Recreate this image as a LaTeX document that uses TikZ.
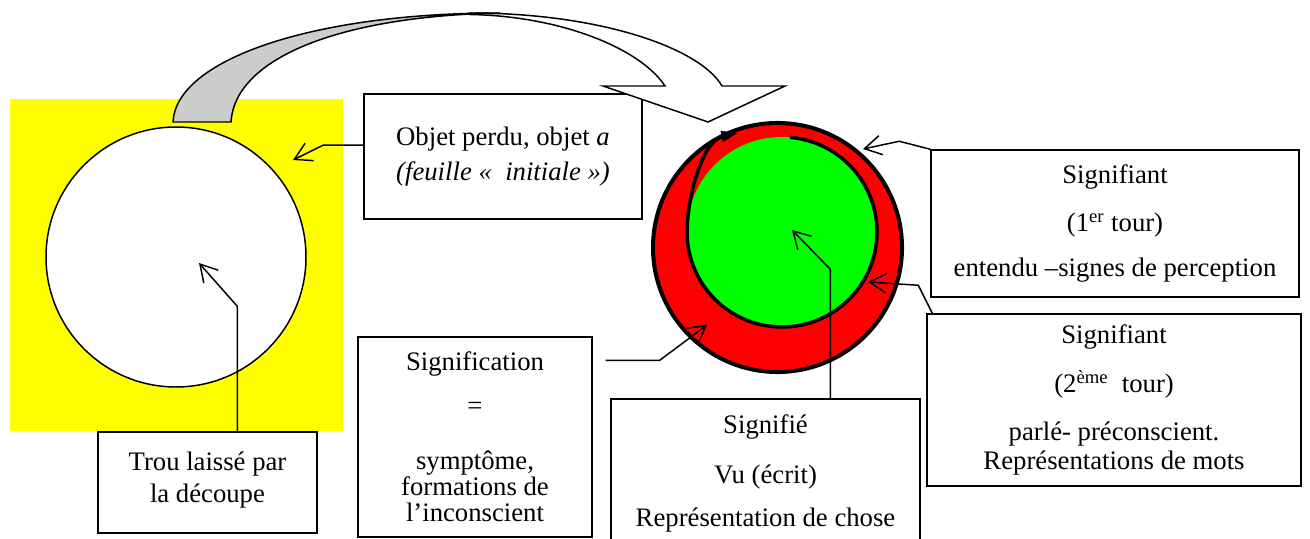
\documentclass[tikz,border=0pt]{standalone}
\usepackage{fontspec}
\setmainfont{Liberation Serif}
\usepackage{tikz}
\usetikzlibrary{calc,arrows.meta}
\definecolor{syellow}{HTML}{FFFF00}
\definecolor{sred}{HTML}{FF0000}
\definecolor{sgreen}{HTML}{00FF00}
\definecolor{sgray}{HTML}{CCCCCC}

\begin{document}
\begin{tikzpicture}[x=0.02cm, y=0.02cm,
    TXT/.style={draw=black, fill=white, line width=0.85pt, align=center, inner sep=0pt, font=\fontsize{15.2}{15}\selectfont},
    PTR/.style={line width=0.85pt, -{Straight Barb[length=9.5pt,width=11pt]}}
    ]
        \useasboundingbox (0,0) rectangle (1310,538);
        \clip (0,0) rectangle (1310,538);
        % la feuille et son trou
        \fill[syellow] (10,107) rectangle (343,439);
        \draw[line width=0.85pt, fill=white] (176,281) circle (130);
        \node[TXT, minimum width=5.56cm, minimum height=2.5cm] (objet) at (503,381.5) {Objet perdu, objet \textit{a}\\[5pt]\textit{(feuille «\ \ initiale »)}};
        \node[TXT, minimum width=4.38cm, minimum height=2.02cm] (trou) at (207.5,55.5) {Trou laissé par\\[3pt]la découpe\\[-9pt]\mbox{}};
        \node[TXT, minimum width=4.68cm, minimum height=4cm] (signif) at (475,101) {Signification\\[10pt]=\\[16pt]symptôme,\\formations de\\l’inconscient};
        \node[TXT, minimum width=6.18cm, minimum height=2.98cm] (signifie) at (765.5,64.5) {Signifié\\[13pt]Vu (écrit)\\[9.5pt]Représentation de chose};
        \node[TXT, minimum width=7.36cm, minimum height=2.94cm] (tour1) at (1115,314.5) {Signifiant\\[12pt](1\textsuperscript{er} tour)\\[10.5pt]entendu –signes de perception};
        \node[TXT, minimum width=7.48cm, minimum height=3.44cm] (tour2) at (1114,138) {Signifiant\\[11pt](2\textsuperscript{ème}\ \ tour)\\[12pt]parlé- préconscient.\\[1.5pt]Représentations de mots};
        % la fleche courbe
        \filldraw[fill=sgray, line width=0.85pt] (173,416) .. controls (176,478) and (311,525) .. (500,525) .. controls (340,522) and (235,480) .. (231,416) -- cycle;
        \filldraw[fill=white, line width=0.85pt] (470,525) .. controls (600,525) and (700,490) .. (722,452) -- (785,452) -- (708,416) -- (603,452) -- (665,452) .. controls (640,490) and (560,522) .. (470,523.5) -- cycle;
        % signifiant / signifie
        \coordinate (gc) at (782,306);
        \filldraw[fill=sred, line width=2.3pt] (777.5,290.5) circle (124.5);
        \fill[sgreen] (gc) circle (95);
        \draw[line width=2pt, -{Triangle[length=9.5pt,width=6pt]}] ([shift={(85:95)}]gc) arc[start angle=85, end angle=-180, radius=95] .. controls (688,350) and (705,398) .. (738,405);
        % pointeurs
        \coordinate (ptfeuille) at (293,378);
        \coordinate (pttrou) at (199,275);
        \coordinate (ptanneau) at (707,213);
        \coordinate (ptcentre) at (792,308);
        \coordinate (ptrouge) at (863,389);
        \coordinate (ptvert) at (868,256);
        \draw[PTR] ($(objet.north west)!0.41!(objet.south west)$) -- ++(-40,0) -- (ptfeuille);
        \draw[PTR] ($(trou.north west)!0.635!(trou.north east)$) -- ++(0,125) -- (pttrou);
        \draw[PTR] ($(signif.north east)+(13,-24)$) -- ++(54,0) -- (ptanneau);
        \draw[PTR] ($(signifie.north west)+(220,0)$) -- ++(0,129) -- (ptcentre);
        \draw[PTR] (tour1.north west) -- ++(-31,8) -- (ptrouge);
        \draw[PTR] ($(tour2.north west)+(6,0)$) -- ++(-14,28) -- (ptvert);
    \end{tikzpicture}
\end{document}
